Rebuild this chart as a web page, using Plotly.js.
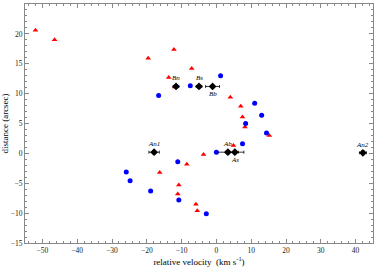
<!DOCTYPE html>
<html><head><meta charset="utf-8">
<script src="https://cdn.plot.ly/plotly-3.0.1.min.js"></script>
<style>html,body{margin:0;padding:0;background:#fff}#c{width:374px;height:267px}</style>
</head><body><div id="c"></div>
<script>
var redX = [-52, -46.5, -19.6, -12.2, -7.1, -13.7, -12, 4.0, 7.0, 7.5, 8.2, 15.2, 4.9, -3.7, -8.5, -16.3, -10.8, -11.1, -5.9, -5.5];
var redY = [20.6, 19.0, 15.9, 17.4, 14.2, 12.7, 11.1, 9.4, 7.9, 6.1, 4.4, 3.0, 1.3, -0.2, -1.8, -3.2, -5.3, -6.8, -8.5, -9.6];
var blueX = [-16.6, -7.5, 1.2, 11.0, 13.0, 8.4, 14.4, 7.5, 0, -11.1, -25.9, -24.8, -18.9, -10.8, -2.9];
var blueY = [9.7, 11.3, 13.0, 8.4, 6.4, 5.0, 3.4, 1.6, 0.2, -1.4, -3.1, -4.6, -6.3, -7.8, -10.1];
var compNames = ['Bn', 'Bs', 'Bb', 'An1', 'Ab', 'As', 'An2'];
var compX = [-11.6, -5.0, -1.1, -17.9, 3.3, 5.3, 42.1];
var compY = [11.2, 11.2, 11.2, 0.2, 0.2, 0.2, 0.1];
var compErrX = [0.8, 0.8, 2.0, 1.5, 3.0, 2.6, 1.0];
var compErrY = [0.3, 0.3, 0.3, 0.3, 0.3, 0.3, 0.3];
var labelAbove = [true, true, false, true, true, false, true];

var serif = 'Liberation Serif, Times New Roman, serif';
var traces = [
  {x: redX, y: redY, mode: 'markers', type: 'scatter',
   marker: {symbol: 'triangle-up', size: 5, color: '#ff0000'}},
  {x: blueX, y: blueY, mode: 'markers', type: 'scatter',
   marker: {symbol: 'circle', size: 5, color: '#0000ff'}},
  {x: compX, y: compY, mode: 'markers', type: 'scatter',
   marker: {symbol: 'diamond', size: 6, color: '#000'},
   error_x: {type: 'data', array: compErrX, color: '#000', thickness: 0.8, width: 1.5},
   error_y: {type: 'data', array: compErrY, color: '#000', thickness: 0.8, width: 1.5}},
  {x: [0], y: [0], xaxis: 'x2', yaxis: 'y2', mode: 'markers', marker: {opacity: 0}, hoverinfo: 'skip'}
];
var annotations = compNames.map(function (n, i) {
  return {x: compX[i], y: compY[i], text: '<i>' + n + '</i>', showarrow: false,
    xanchor: 'center', yanchor: labelAbove[i] ? 'bottom' : 'top',
    yshift: labelAbove[i] ? 2 : -2,
    font: {family: serif, size: 7, color: '#000'}};
});
var axisCommon = {
  showgrid: false, zeroline: false, showline: true, linecolor: '#888', linewidth: 1,
  ticks: 'inside', ticklen: 4, tickcolor: '#888', tickwidth: 1,
  tickfont: {family: serif, size: 7.5, color: '#222'}
};
var layout = {
  width: 374, height: 267, showlegend: false,
  margin: {l: 25, r: 1, t: 4, b: 24},
  paper_bgcolor: '#fff', plot_bgcolor: '#fff',
  annotations: annotations,
  xaxis: Object.assign({}, axisCommon, {
    range: [-55, 45], dtick: 10, tick0: 0,
    minor: {dtick: 2, ticks: 'inside', ticklen: 2, tickcolor: '#888'},
    title: {text: 'relative velocity  (km s<sup>-1</sup>)', font: {family: serif, size: 9, color: '#000'}, standoff: 2}
  }),
  yaxis: Object.assign({}, axisCommon, {
    range: [-15, 25], dtick: 5, tick0: 0,
    minor: {dtick: 1, ticks: 'inside', ticklen: 2, tickcolor: '#888'},
    title: {text: 'distance (arcsec)', font: {family: serif, size: 9, color: '#000'}, standoff: 2}
  }),
  xaxis2: Object.assign({}, axisCommon, {
    overlaying: 'x', side: 'top', anchor: 'y2', range: [-55, 45], dtick: 10, tick0: 0,
    showticklabels: false,
    minor: {dtick: 2, ticks: 'inside', ticklen: 2, tickcolor: '#888'}
  }),
  yaxis2: Object.assign({}, axisCommon, {
    overlaying: 'y', side: 'right', anchor: 'x2', range: [-15, 25], dtick: 5, tick0: 0,
    showticklabels: false,
    minor: {dtick: 1, ticks: 'inside', ticklen: 2, tickcolor: '#888'}
  })
};
Plotly.newPlot('c', traces, layout, {displayModeBar: false, staticPlot: true});
</script></body></html>
